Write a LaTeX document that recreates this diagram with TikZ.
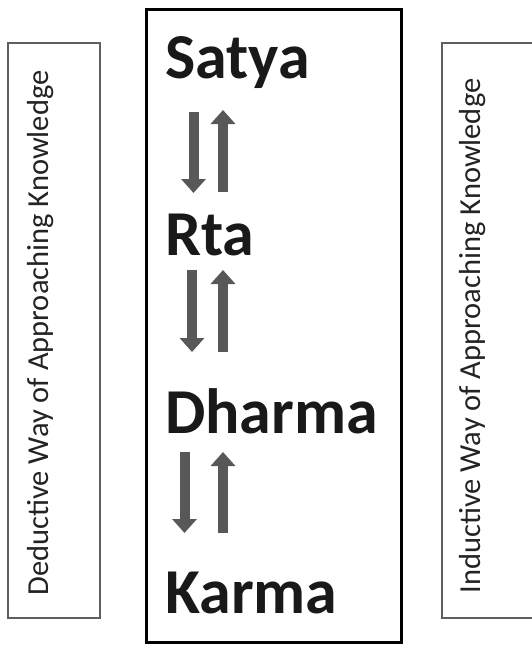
\documentclass[tikz,border=0pt]{standalone}
\usepackage{fontspec}
\setmainfont{Carlito}
\usetikzlibrary{arrows.meta}
\definecolor{arrgray}{RGB}{88,88,88}
\definecolor{boxgray}{RGB}{95,95,95}
\definecolor{txtgray}{RGB}{35,35,35}

\begin{document}
\begin{tikzpicture}[x=1pt, y=1pt,
    term/.style={anchor=base west, inner sep=0pt, font=\fontsize{64}{64}\selectfont\bfseries, text=black!90},
    side/.style={draw=boxgray, line width=1.5pt},
    way/.style={rotate=90, anchor=base, inner sep=0pt, font=\fontsize{30.5}{30.5}\selectfont, text=txtgray},
    flow/.style={draw=arrgray, line width=10pt, -{Triangle[width=24pt, length=14pt]}}
]
\useasboundingbox (0,0) rectangle (531,-646);

% outer frames
\draw[side] (8,-43) rectangle (100,-618);
\draw[side] (442,-43) rectangle (540,-618);
\draw[line width=3pt] (146,-9) rectangle (401,-642);

% side labels
\node[way] (ded) at (48,-333) {Deductive Way of Approaching Knowledge};
\node[way] (ind) at (480,-336) {Inductive Way of Approaching Knowledge};

% the four levels
\node[term] (satya) at (165,-78) {Satya};
\node[term] (rta) at (165,-255) {Rta};
\node[term] (dharma) at (165,-433) {Dharma};
\node[term] (karma) at (165,-613) {Karma};

% arrow ends
\coordinate (d1a) at (193.5,-112);
\coordinate (d1b) at (193.5,-193);
\coordinate (u1a) at (223,-192);
\coordinate (u1b) at (223,-110);
\coordinate (d2a) at (192,-270);
\coordinate (d2b) at (192,-352);
\coordinate (u2a) at (223,-352);
\coordinate (u2b) at (223,-270);
\coordinate (d3a) at (184.5,-452);
\coordinate (d3b) at (184.5,-533);
\coordinate (u3a) at (223,-533);
\coordinate (u3b) at (223,-452);

\draw[flow] (d1a) -- (d1b);
\draw[flow] (u1a) -- (u1b);
\draw[flow] (d2a) -- (d2b);
\draw[flow] (u2a) -- (u2b);
\draw[flow] (d3a) -- (d3b);
\draw[flow] (u3a) -- (u3b);
\end{tikzpicture}
\end{document}
